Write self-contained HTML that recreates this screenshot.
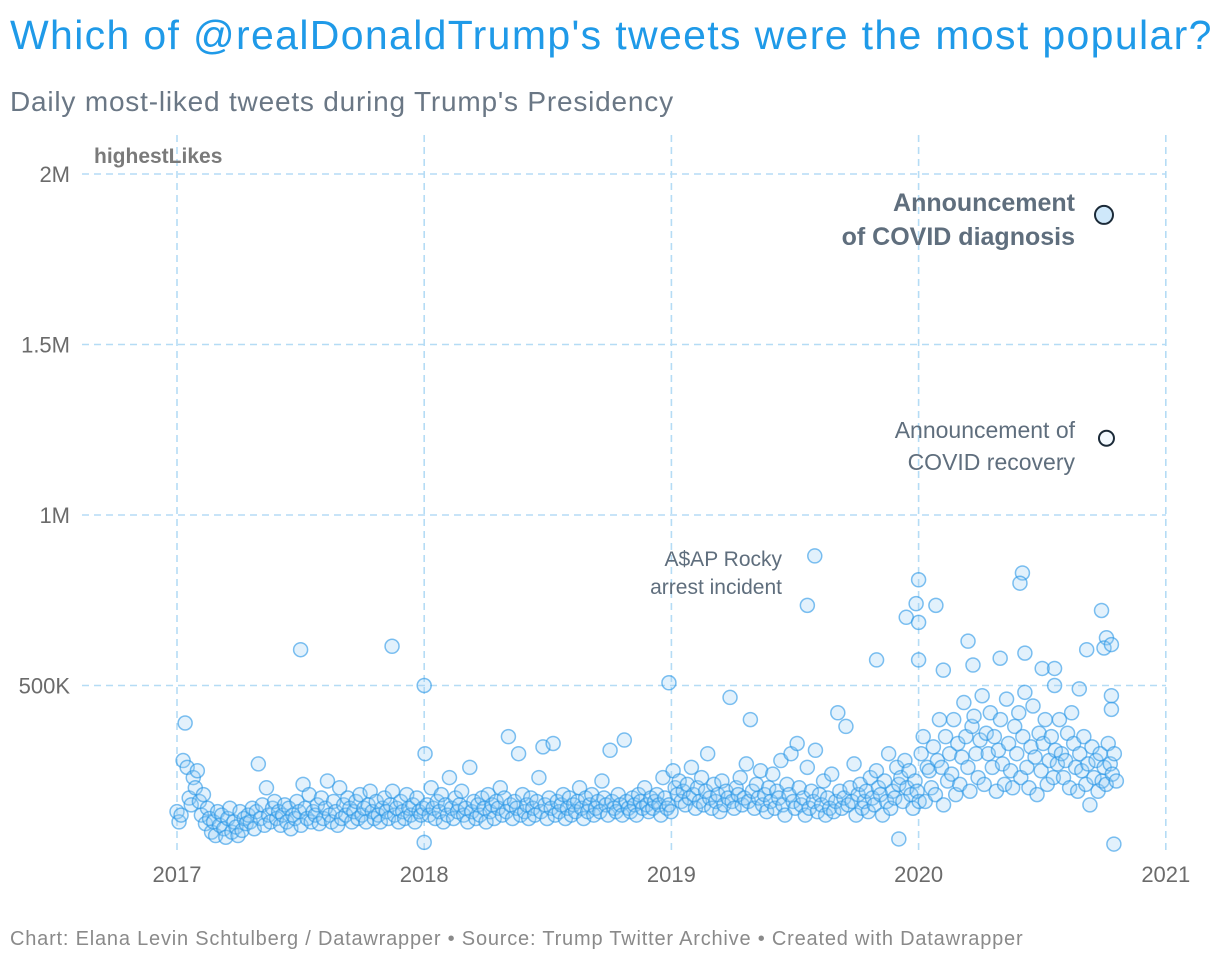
<!DOCTYPE html>
<html><head><meta charset="utf-8">
<style>
body{margin:0;background:#fff;font-family:"Liberation Sans",sans-serif;}
#wrap{position:relative;width:1220px;height:964px;overflow:hidden;}
.t{position:absolute;white-space:nowrap;}
</style></head>
<body>
<div id="wrap">
<div class="t" style="left:10px;top:12px;font-size:41px;letter-spacing:1.35px;color:#1f9ae8;">Which of @realDonaldTrump's tweets were the most popular?</div>
<div class="t" style="left:10px;top:86px;font-size:28px;letter-spacing:0.8px;color:#6a7785;">Daily most-liked tweets during Trump's Presidency</div>
<div class="t" style="left:10px;top:928px;font-size:20px;letter-spacing:0.8px;color:#8a8a8a;">Chart: Elana Levin Schtulberg / Datawrapper • Source: Trump Twitter Archive • Created with Datawrapper</div>
<svg id="chart" width="1220" height="964" style="position:absolute;left:0;top:0"></svg>
</div>
<script>
const yTicks=[0,500,1000,1500,2000];
const yTickLabels=["","500K","1M","1.5M","2M"];
const xTicks=[2017,2018,2019,2020,2021];
const startYear=2017.0, endYear=2020.8;
const likes2017=[130,100,120,280,390,260,170,150,230,200,250,160,120,180,95,140,110,70,100,60,130,90,120,80,55,110,140,70,100,85,60,130,75,110,95,120,100,140,80,130,270,110,150,90,200,120,100,140,160,110,130,90,120,150,100,140,80,120,110,160,130,90,210,140,110,180,100,130,120,150,95,170,110,140,220,120,100,160,130,90,200,110,150,120,170,140,100,130,160,110,180,120,140,100,150,190,130,110,160,120,100,140,170,130,110,150,190,120,140,100,160,130,110,180,140,120,150,100,170,130,120,140];
const likes2018=[300,150,120,200,140,110,160,130,180,100,150,120,230,140,110,170,130,150,190,120,140,100,260,130,160,110,150,120,170,140,100,180,130,150,110,160,140,200,120,170,130,350,150,110,160,140,300,120,180,130,150,110,170,140,120,160,230,130,320,150,110,170,140,330,120,160,130,150,180,110,140,170,120,150,130,160,200,140,110,170,130,150,180,120,140,160,130,220,170,150,120,310,160,140,130,180,150,120,340,160,140,130,170,150,120,180,160,140,200,150,130,170,140,160,180,150,120,230,170,140,150,130];
const likes2019=[250,200,180,220,160,190,150,210,170,260,180,140,200,160,230,150,190,300,170,140,210,160,180,130,220,150,190,170,465,160,140,200,180,230,150,170,270,160,400,190,140,210,170,250,150,180,130,200,160,240,140,190,170,280,150,120,210,180,300,160,140,330,200,150,170,120,260,140,190,160,310,130,180,150,220,120,170,140,240,130,160,420,190,140,170,380,150,200,160,270,120,180,210,140,160,190,130,230,170,150,250,200,180,120,220,160,300,140,190,170,260,210,230,160,280,200,250,180,140,220,190,160];
const likes2020=[300,350,160,260,250,200,320,180,280,400,260,150,350,220,300,240,400,180,330,210,290,450,350,260,190,380,410,300,230,340,470,210,360,300,420,260,350,190,310,400,270,210,460,330,250,200,380,300,420,230,350,480,260,200,320,440,290,180,360,250,330,400,210,280,350,230,310,270,400,300,230,280,360,200,420,330,260,190,300,250,350,210,270,150,320,230,280,190,300,220,260,210,330,270,240,300,220];
const outlierDates=[2017.5,2017.87,2018.0,2018.0,2018.99,2019.58,2019.55,2019.83,2019.95,2019.92,2019.99,2020.0,2020.07,2020.0,2020.0,2020.1,2020.42,2020.41,2020.43,2020.2,2020.22,2020.33,2020.5,2020.55,2020.68,2020.74,2020.76,2020.75,2020.78,2020.78,2020.79,2020.78,2020.55,2020.65];
const outlierLikes=[605,615,500,40,508,880,735,575,700,50,740,810,735,685,575,545,830,800,595,630,560,580,550,550,605,720,640,610,620,470,35,430,500,490];
const highlightDates=[2020.75,2020.76];
const highlightLikes=[1880,1225];

const NS="http://www.w3.org/2000/svg";
const svg=document.getElementById('chart');
const X=v=>177+(v-2017)*247.2;
const Y=v=>856-v*0.341;
function mk(tag,attrs,parent){const e=document.createElementNS(NS,tag);for(const k in attrs)e.setAttribute(k,attrs[k]);(parent||svg).appendChild(e);return e;}

yTicks.forEach((t,i)=>{
  if(t>0){const l=mk('line',{x1:82,x2:1166,y1:Y(t),y2:Y(t),stroke:'#b5dcf5','stroke-width':1.6,'stroke-dasharray':'7,5'});
  
  }
  const tx=mk('text',{x:70,y:Y(t)+8,'text-anchor':'end','font-size':22,fill:'#6b6b6b','font-family':'Liberation Sans, sans-serif'});
  tx.textContent=yTickLabels[i];
  
  
});
xTicks.forEach(t=>{
  const l=mk('line',{x1:X(t),x2:X(t),y1:135,y2:855,stroke:'#b5dcf5','stroke-width':1.6,'stroke-dasharray':'7,5'});
  
  
  const tx=mk('text',{x:X(t),y:882,'text-anchor':'middle','font-size':22,fill:'#6b6b6b','font-family':'Liberation Sans, sans-serif'});
  tx.textContent=String(t);
  
  
});
const yt=mk('text',{x:94,y:163,'font-size':21,'font-weight':'bold',fill:'#7a7a7a','font-family':'Liberation Sans, sans-serif'});
yt.textContent='highestLikes';



const allLikes=[].concat(likes2017,likes2018,likes2019,likes2020);
const n=allLikes.length;
function dot(d,v){
  const c=mk('circle',{cx:X(d),cy:Y(v),r:7,fill:'rgba(150,205,245,0.28)',stroke:'rgba(40,150,230,0.6)','stroke-width':1.5});
  
  
}
allLikes.forEach((v,i)=>dot(startYear+(endYear-startYear)*i/(n-1),v));
outlierDates.forEach((d,i)=>dot(d,outlierLikes[i]));
const h1=mk('circle',{cx:X(highlightDates[0]),cy:Y(highlightLikes[0]),r:9,fill:'#cfe8fa',stroke:'#1b2a38','stroke-width':2});


const h2=mk('circle',{cx:X(highlightDates[1]),cy:Y(highlightLikes[1]),r:7.5,fill:'#f4faff',stroke:'#1b2a38','stroke-width':2});



function ann(lines,x,y0,dy,size,bold,name){
  lines.forEach((s,i)=>{
    const t=mk('text',{x:x,y:y0+i*dy,'text-anchor':'end','font-size':size,'font-weight':bold?'bold':'normal',fill:'#5f6e7d','font-family':'Liberation Sans, sans-serif'});
    t.textContent=s;
    
    
  });
}
ann(['Announcement','of COVID diagnosis'],1075,211,34,25,true,'annotation-covid-diagnosis');
ann(['Announcement of','COVID recovery'],1075,438,32,23,false,'annotation-covid-recovery');
ann(['A$AP Rocky','arrest incident'],782,566,28,21,false,'annotation-asap-rocky');
</script>
</body></html>
